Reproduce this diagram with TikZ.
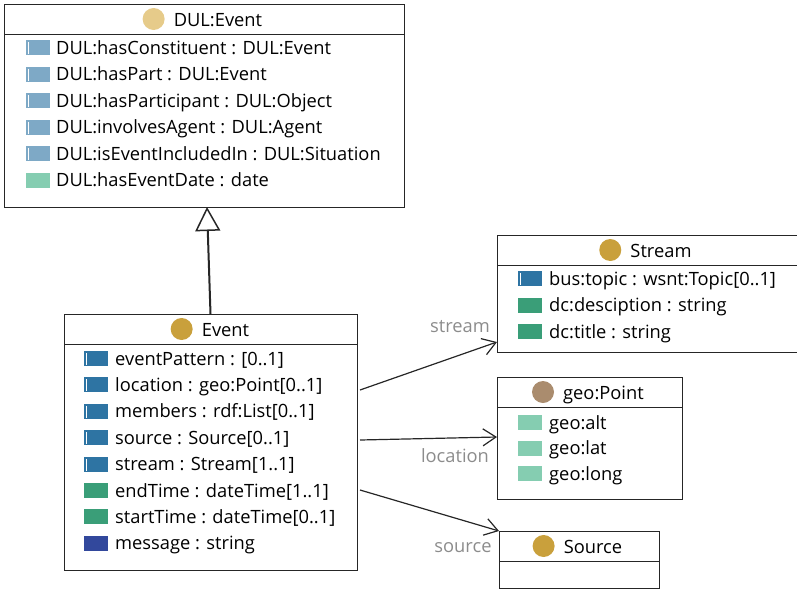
\documentclass[tikz,border=0pt]{standalone}
\usepackage{fontspec}
\setmainfont{Open Sans}
\usetikzlibrary{arrows.meta,calc}

\definecolor{duldot}{HTML}{E6CB8A}
\definecolor{clsdot}{HTML}{C9A03C}
\definecolor{geodot}{HTML}{AA8C6E}
\definecolor{dulobj}{HTML}{7EA9C6}
\definecolor{lightdata}{HTML}{85CDB1}
\definecolor{objprop}{HTML}{2E74A3}
\definecolor{dataprop}{HTML}{3A9E78}
\definecolor{msgprop}{HTML}{32489C}
\definecolor{linkgray}{HTML}{8C8C8C}

\tikzset{
  classbox/.style={draw=black!85,line width=1pt,inner sep=0pt,outer sep=0pt,anchor=north west},
  classtitle/.style={inner sep=0pt,anchor=base,font=\fontsize{18.3}{22}\selectfont},
  attr/.style={inner sep=0pt,anchor=base west,font=\fontsize{18.3}{22}\selectfont},
  linklabel/.style={inner sep=0pt,text=linkgray,font=\fontsize{18.3}{22}\selectfont},
  assoc/.style={draw=black!85,line width=1.2pt,-{Straight Barb[length=13pt,width=17pt]}},
  inherit/.style={draw=black!85,line width=2pt,-{Triangle[open,length=24pt,width=25pt,line width=1.5pt]}}
}

\begin{document}
\begin{tikzpicture}[x=1pt,y=-1pt]
\useasboundingbox (0,0) rectangle (797,589);

% class boxes
\node[classbox,minimum width=400pt,minimum height=203pt] (dul) at (4,4) {};
\node[classbox,minimum width=293pt,minimum height=256pt] (event) at (64,314) {};
\node[classbox,minimum width=306pt,minimum height=117pt] (stream) at (497,235) {};
\node[classbox,minimum width=185pt,minimum height=122pt] (geopoint) at (497,377) {};
\node[classbox,minimum width=160pt,minimum height=57pt] (source) at (499,531) {};

% header lines
\foreach \b in {dul,event,stream,geopoint,source}
  \draw[black!85,line width=1pt] ($(\b.north west)+(0,30)$) -- ($(\b.north east)+(0,30)$);

% titles with dots
\node[classtitle] (dul-title) at ($(dul.north)+(14,22)$) {DUL:Event};
\fill[duldot] ($(dul-title.base west)+(-20,-7)$) circle (11);
\node[classtitle] (event-title) at ($(event.north)+(15,22)$) {Event};
\fill[clsdot] ($(event-title.base west)+(-20,-7)$) circle (11);
\node[classtitle] (stream-title) at ($(stream.north)+(11,22)$) {Stream};
\fill[clsdot] ($(stream-title.base west)+(-20,-7)$) circle (11);
\node[classtitle] (geopoint-title) at ($(geopoint.north)+(14,22)$) {geo:Point};
\fill[geodot] ($(geopoint-title.base west)+(-20,-7)$) circle (11);
\node[classtitle] (source-title) at ($(source.north)+(14,22)$) {Source};
\fill[clsdot] ($(source-title.base west)+(-20,-7)$) circle (11);

% DUL:Event properties
\foreach \t/\c/\k [count=\i] in {
  {DUL:hasConstituent : DUL:Event}/dulobj/1,
  {DUL:hasPart : DUL:Event}/dulobj/1,
  {DUL:hasParticipant : DUL:Object}/dulobj/1,
  {DUL:involvesAgent : DUL:Agent}/dulobj/1,
  {DUL:isEventIncludedIn : DUL:Situation}/dulobj/1,
  {DUL:hasEventDate : date}/lightdata/0}
{
  \fill[\c] ($(dul.north west)+(22,{36+26.5*(\i-1)})$) rectangle ++(24,15);
  \ifnum\k=1 \draw[white,line width=1pt] ($(dul.north west)+(24.5,{38+26.5*(\i-1)})$) -- ++(0,12); \fi
  \node[attr] at ($(dul.north west)+(52,{50+26.5*(\i-1)})$) {\t};
}

% Event properties
\foreach \t/\c/\k [count=\i] in {
  {eventPattern : [0..1]}/objprop/1,
  {location : geo:Point[0..1]}/objprop/1,
  {members : rdf:List[0..1]}/objprop/1,
  {source : Source[0..1]}/objprop/1,
  {stream : Stream[1..1]}/objprop/1,
  {endTime : dateTime[1..1]}/dataprop/0,
  {startTime : dateTime[0..1]}/dataprop/0,
  {message : string}/msgprop/0}
{
  \fill[\c] ($(event.north west)+(20,{37+26.4*(\i-1)})$) rectangle ++(24,15);
  \ifnum\k=1 \draw[white,line width=1pt] ($(event.north west)+(22.5,{39+26.4*(\i-1)})$) -- ++(0,12); \fi
  \node[attr] at ($(event.north west)+(51,{51+26.4*(\i-1)})$) {\t};
}

% Stream properties
\foreach \t/\c/\k [count=\i] in {
  {bus:topic : wsnt:Topic[0..1]}/objprop/1,
  {dc:desciption : string}/dataprop/0,
  {dc:title : string}/dataprop/0}
{
  \fill[\c] ($(stream.north west)+(21,{36+26.5*(\i-1)})$) rectangle ++(24,15);
  \ifnum\k=1 \draw[white,line width=1pt] ($(stream.north west)+(23.5,{38+26.5*(\i-1)})$) -- ++(0,12); \fi
  \node[attr] at ($(stream.north west)+(52,{50+26.5*(\i-1)})$) {\t};
}

% geo:Point properties
\foreach \t [count=\i] in {geo:alt,geo:lat,geo:long}
{
  \fill[lightdata] ($(geopoint.north west)+(21,{38+25.5*(\i-1)})$) rectangle ++(24,15);
  \node[attr] at ($(geopoint.north west)+(52,{52+25.5*(\i-1)})$) {\t};
}

% inheritance
\draw[inherit] (event.north) -- ($(dul.south)+(3,0)$);

% associations
\coordinate (ev-stream) at ($(event.north east)+(3,76)$);
\coordinate (ev-location) at ($(event.north east)+(3,126)$);
\coordinate (ev-source) at ($(event.north east)+(3,176)$);
\draw[assoc] (ev-stream) -- ($(stream.south west)+(0,-10)$);
\draw[assoc] (ev-location) -- (geopoint.west |- 0,437);
\draw[assoc] (ev-source) -- (source.north west);

\node[linklabel] (lbl-stream) at (460,327) {stream};
\node[linklabel] (lbl-location) at (455,456) {location};
\node[linklabel] (lbl-source) at (463,548) {source};

\end{tikzpicture}
\end{document}
